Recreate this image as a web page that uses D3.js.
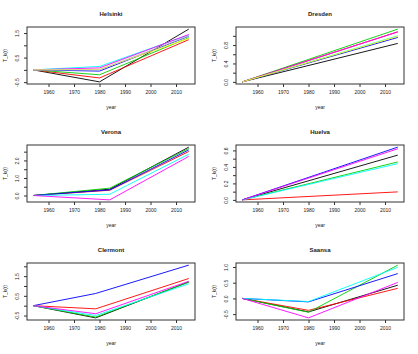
<!DOCTYPE html>
<html>
<head>
<meta charset="UTF-8">
<script src="https://cdn.jsdelivr.net/npm/d3@7"></script>
<style>
  body { margin: 0; background: #fff; }
  text { font-family: "Liberation Sans", Arial, sans-serif; fill: #222; }
</style>
</head>
<body>
<script>
// colours in R's old default palette order
var pal = {black: "#000000", red: "#FF0000", green: "#00CD00", blue: "#0000FF",
           cyan: "#00FFFF", magenta: "#FF00FF", yellow: "#FFFF00", gray: "#BEBEBE"};

var cities = ["Helsinki", "Dresden", "Verona", "Huelva", "Clermont", "Saansa"];
var xTicks = [1960, 1970, 1980, 1990, 2000, 2010];
var xRange = [1954, 2015];

// years of the points of each city
var helsinkiYears = [1954, 1980, 2015];
var dresdenYears  = [1954, 2015];
var veronaYears   = [1954, 1984, 2015];
var huelvaYears   = [1954, 2015];
var clermontYears = [1954, 1978.5, 2015];
var saansaYears   = [1954, 1980, 2015];

// T_k(t) per series: [colour, values]
var helsinkiSeries = [
  ["black",   [0, -0.49, 1.66]],
  ["red",     [0, -0.33, 1.23]],
  ["green",   [0, -0.20, 1.31]],
  ["blue",    [0, -0.05, 1.37]],
  ["cyan",    [0,  0.14, 1.42]],
  ["magenta", [0,  0.08, 1.44]],
  ["yellow",  [0,  0.02, 1.28]],
  ["gray",    [0,  0.00, 1.38]]
];
var dresdenSeries = [
  ["black",   [0, 0.835]],
  ["red",     [0, 1.085]],
  ["green",   [0, 1.146]],
  ["blue",    [0, 0.965]],
  ["cyan",    [0, 1.0]],
  ["magenta", [0, 1.087]],
  ["yellow",  [0, 0.99]]
];
var veronaSeries = [
  ["black",   [0, 0.36, 2.76]],
  ["red",     [0, 0.30, 2.51]],
  ["green",   [0, 0.42, 2.68]],
  ["blue",    [0, 0.32, 2.60]],
  ["cyan",    [0, 0.07, 2.36]],
  ["magenta", [0, -0.25, 2.23]]
];
var huelvaSeries = [
  ["black",   [0, 0.543]],
  ["red",     [0, 0.097]],
  ["green",   [0, 0.46]],
  ["blue",    [0, 0.64]],
  ["cyan",    [0, 0.44]],
  ["magenta", [0, 0.62]]
];
var clermontSeries = [
  ["black",   [0, -0.62, 1.21]],
  ["red",     [0, -0.16, 1.38]],
  ["green",   [0, -0.58, 1.19]],
  ["blue",    [0, 0.62, 2.06]],
  ["cyan",    [0, -0.50, 1.11]],
  ["magenta", [0, -0.41, 1.24]]
];
var saansaSeries = [
  ["black",   [0, -0.43, 0.42]],
  ["red",     [0, -0.38, 0.32]],
  ["green",   [0, -0.44, 1.06]],
  ["blue",    [0, -0.11, 0.79]],
  ["cyan",    [0, -0.10, 0.99]],
  ["magenta", [0, -0.62, 0.51]]
];

// y axis ticks and labels (R skips some labels)
var helsinkiTicks = [-0.5, 0, 0.5, 1, 1.5];
var helsinkiLabels = ["-0.5", "", "0.5", "", "1.5"];
var dresdenTicks = [0, 0.2, 0.4, 0.6, 0.8, 1.0];
var dresdenLabels = ["0.0", "", "0.4", "", "0.8", ""];
var veronaTicks = [0, 0.5, 1, 1.5, 2, 2.5];
var veronaLabels = ["0.0", "", "1.0", "", "2.0", ""];
var huelvaTicks = [0, 0.1, 0.2, 0.3, 0.4, 0.5, 0.6];
var huelvaLabels = ["0.0", "", "0.2", "", "0.4", "", "0.6"];
var clermontTicks = [-0.5, 0, 0.5, 1, 1.5, 2];
var clermontLabels = ["-0.5", "", "0.5", "", "1.5", ""];
var saansaTicks = [-0.5, 0, 0.5, 1];
var saansaLabels = ["-0.5", "0.0", "0.5", "1.0"];

var allYears  = [helsinkiYears, dresdenYears, veronaYears, huelvaYears, clermontYears, saansaYears];
var allSeries = [helsinkiSeries, dresdenSeries, veronaSeries, huelvaSeries, clermontSeries, saansaSeries];
var allTicks  = [helsinkiTicks, dresdenTicks, veronaTicks, huelvaTicks, clermontTicks, saansaTicks];
var allLabels = [helsinkiLabels, dresdenLabels, veronaLabels, huelvaLabels, clermontLabels, saansaLabels];

var W = 418, H = 354;
var pw = 209, ph = 118;       // one panel
var pLeft = 27, pRight = 195, pTop = 27, pBottom = 84;

var svg = d3.select("body").append("svg")
  .attr("width", W).attr("height", H);

// R style 4% padding
function pad(ext) {
  var d = (ext[1] - ext[0]) * 0.04;
  return [ext[0] - d, ext[1] + d];
}

var x = d3.scaleLinear().domain(pad(xRange)).range([pLeft, pRight]);

cities.forEach(function(city, i) {
  var g = svg.append("g")
    .attr("transform", "translate(" + (i % 2) * pw + "," + Math.floor(i / 2) * ph + ")");

  var years = allYears[i], series = allSeries[i];
  var vals = [];
  series.forEach(function(s) { vals = vals.concat(s[1]); });
  var y = d3.scaleLinear().domain(pad(d3.extent(vals))).range([pBottom, pTop]);

  var line = d3.line()
    .x(function(d, j) { return x(years[j]); })
    .y(function(d) { return y(d); });

  g.selectAll("path.serie")
    .data(series)
    .enter().append("path")
    .attr("class", "serie")
    .attr("d", function(s) { return line(s[1]); })
    .attr("fill", "none")
    .attr("stroke", function(s) { return pal[s[0]]; })
    .attr("stroke-width", 0.9);

  // box
  g.append("rect")
    .attr("x", pLeft).attr("y", pTop)
    .attr("width", pRight - pLeft).attr("height", pBottom - pTop)
    .attr("fill", "none").attr("stroke", "#333").attr("stroke-width", 1);

  // x axis
  var ax = g.append("g")
    .attr("transform", "translate(0," + pBottom + ")")
    .call(d3.axisBottom(x).tickValues(xTicks).tickSize(3).tickPadding(3).tickFormat(d3.format("d")));
  ax.select(".domain").remove();
  ax.selectAll("line").attr("stroke", "#333");
  ax.selectAll("text").attr("font-size", 5).attr("fill", "#222")
    .attr("font-family", "Liberation Sans, Arial, sans-serif");

  // y axis, labels turned like R
  var labels = allLabels[i];
  var ay = g.append("g")
    .attr("transform", "translate(" + pLeft + ",0)")
    .call(d3.axisLeft(y).tickValues(allTicks[i]).tickSize(3)
      .tickFormat(function(d, j) { return labels[j]; }));
  ay.select(".domain").remove();
  ay.selectAll("line").attr("stroke", "#333");
  ay.selectAll("text")
    .attr("font-size", 5).attr("fill", "#222")
    .attr("font-family", "Liberation Sans, Arial, sans-serif")
    .attr("x", null).attr("dy", null)
    .attr("text-anchor", "middle")
    .attr("transform", "translate(-8.2,0) rotate(-90)");

  // titles
  g.append("text")
    .attr("x", (pLeft + pRight) / 2).attr("y", 16)
    .attr("text-anchor", "middle")
    .attr("font-size", 6).attr("font-weight", "bold")
    .text(city);

  g.append("text")
    .attr("x", (pLeft + pRight) / 2).attr("y", 109)
    .attr("text-anchor", "middle")
    .attr("font-size", 5)
    .text("year");

  g.append("text")
    .attr("transform", "translate(7," + (pTop + pBottom) / 2 + ") rotate(-90)")
    .attr("text-anchor", "middle")
    .attr("font-size", 5)
    .text("T_k(t)");
});
</script>
</body>
</html>
